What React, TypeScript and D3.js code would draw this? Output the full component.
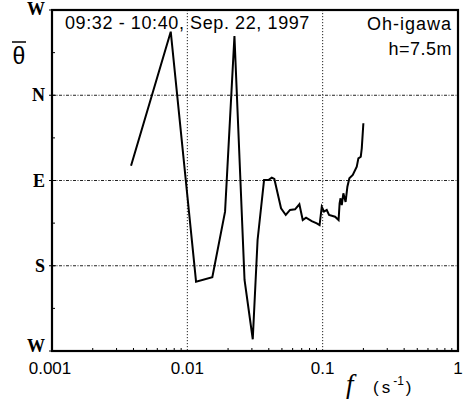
import React from "react";
import * as d3 from "d3";

// Frequency (s^-1) and mean wind direction (deg, N = 0, E = 90, S = 180)
const freq = [
  0.003837, 0.00754, 0.0116, 0.0153, 0.019, 0.02229, 0.02647, 0.03044, 0.03304,
  0.03689, 0.0397, 0.04206, 0.04395, 0.04926, 0.05337, 0.05742, 0.06252, 0.06727,
  0.07126, 0.07538, 0.08305, 0.09046, 0.09486, 0.09847, 0.1024, 0.1072, 0.1115,
  0.1235, 0.1311, 0.1334, 0.1356, 0.1384, 0.1422, 0.1477, 0.1523, 0.1575, 0.1669,
  0.1786, 0.1836, 0.1912, 0.1945, 0.1999,
];
const theta = [
  74.4, -67.1, 196.8, 192.2, 122.9, -62.6, 195.0, 257.6, 152.8,
  89.5, 89.5, 87.0, 88.4, 119.3, 126.4, 121.1, 120.4, 115.1,
  131.7, 129.3, 132.8, 135.2, 137.0, 117.7, 122.9, 121.1, 126.4,
  128.2, 131.7, 114.1, 108.8, 115.9, 103.5, 112.7, 96.5, 87.7, 84.2,
  75.4, 66.6, 64.9, 56.0, 29.6,
];

const xTicks = [0.001, 0.01, 0.1, 1];
const xTickLabels = ["0.001", "0.01", "0.1", "1"];
const dirTicks = [-90, 0, 90, 180, 270];
const dirLabels = ["W", "N", "E", "S", "W"];

const W = 467;
const H = 401;
const left = 52;
const right = 458;
const top = 10;
const bottom = 351;

export default function App() {
  const x = d3.scaleLog().domain([0.001, 1]).range([left, right]);
  const y = d3.scaleLinear().domain([-90, 270]).range([top, bottom]);

  const pts: [number, number][] = freq.map((f, i) => [f, theta[i]]);
  const line = d3
    .line<[number, number]>()
    .x((d) => x(d[0]))
    .y((d) => y(d[1]));

  // minor log ticks 2..9 per decade
  const minorX: number[] = [];
  for (let e = -3; e < 0; e++) {
    for (let m = 2; m <= 9; m++) minorX.push(m * Math.pow(10, e));
  }
  const minorY = d3.range(-45, 270, 90);

  const sans = "Liberation Sans, Arial, sans-serif";
  const serif = "Liberation Serif, Times New Roman, serif";

  // baseline offset of each direction label relative to its tick
  const labelDy = (i: number) =>
    i === 0 ? 5 : i === dirTicks.length - 1 ? 1 : 6;

  return (
    <svg
      width={W}
      height={H}
      style={{ position: "absolute", left: 0, top: 0, background: "#fff" }}
    >
      {/* grid */}
      {[0.01, 0.1].map((v) => (
        <line
          key={"gx" + v}
          x1={x(v)}
          x2={x(v)}
          y1={top}
          y2={bottom}
          stroke="#222"
          strokeWidth={1}
          strokeDasharray="1.2,1.8"
        />
      ))}
      {[0, 90, 180].map((v) => (
        <line
          key={"gy" + v}
          x1={left}
          x2={right}
          y1={y(v)}
          y2={y(v)}
          stroke="#222"
          strokeWidth={1}
          strokeDasharray="3,1.5,1,1.5"
        />
      ))}

      {/* minor ticks */}
      {minorX.map((v) => (
        <line
          key={"mx" + v}
          x1={x(v)}
          x2={x(v)}
          y1={bottom}
          y2={bottom - 3}
          stroke="#000"
          strokeWidth={1}
        />
      ))}
      {minorY.map((v) => (
        <line
          key={"my" + v}
          x1={left}
          x2={left + 3}
          y1={y(v)}
          y2={y(v)}
          stroke="#000"
          strokeWidth={1}
        />
      ))}
      {dirTicks.map((v, i) => (
        <line
          key={"ty" + i}
          x1={left - 3}
          x2={left + 4}
          y1={y(v)}
          y2={y(v)}
          stroke="#000"
          strokeWidth={1}
        />
      ))}

      {/* frame */}
      <rect
        x={left}
        y={top}
        width={right - left}
        height={bottom - top}
        fill="none"
        stroke="#000"
        strokeWidth={2.2}
      />

      {/* data */}
      <path
        d={line(pts) || ""}
        fill="none"
        stroke="#000"
        strokeWidth={2}
        strokeLinejoin="miter"
      />

      {/* y labels */}
      {dirTicks.map((v, i) => (
        <text
          key={"ly" + i}
          x={45}
          y={y(v) + labelDy(i)}
          textAnchor="end"
          fontFamily={serif}
          fontWeight="bold"
          fontSize={18}
        >
          {dirLabels[i]}
        </text>
      ))}
      <text x={19} y={64} textAnchor="middle" fontFamily={sans} fontSize={23}>
        θ
      </text>
      <line x1={12} x2={26} y1={42} y2={42} stroke="#000" strokeWidth={1.5} />

      {/* x labels */}
      {xTicks.map((v, i) => (
        <text
          key={"lx" + i}
          x={x(v) - (i === 0 ? 2 : 0)}
          y={374}
          textAnchor="middle"
          fontFamily={sans}
          fontSize={17}
        >
          {xTickLabels[i]}
        </text>
      ))}
      <text x={346} y={393} fontFamily={serif} fontStyle="italic" fontSize={27}>
        f
      </text>
      <text x={373} y={393} fontFamily={sans} fontSize={17}>
        (
        <tspan dx={3}>s</tspan>
        <tspan dx={3} dy={-8} fontSize={12}>
          -1
        </tspan>
        <tspan dx={2} dy={8}>
          )
        </tspan>
      </text>

      {/* annotations */}
      <text x={65} y={29} fontFamily={sans} fontSize={18} letterSpacing={0.6}>
        09:32 - 10:40, Sep. 22, 1997
      </text>
      <text
        x={452}
        y={30}
        textAnchor="end"
        fontFamily={sans}
        fontSize={18}
        letterSpacing={1}
      >
        Oh-igawa
      </text>
      <text
        x={452}
        y={55}
        textAnchor="end"
        fontFamily={sans}
        fontSize={18}
        letterSpacing={0.5}
      >
        h=7.5m
      </text>
    </svg>
  );
}
